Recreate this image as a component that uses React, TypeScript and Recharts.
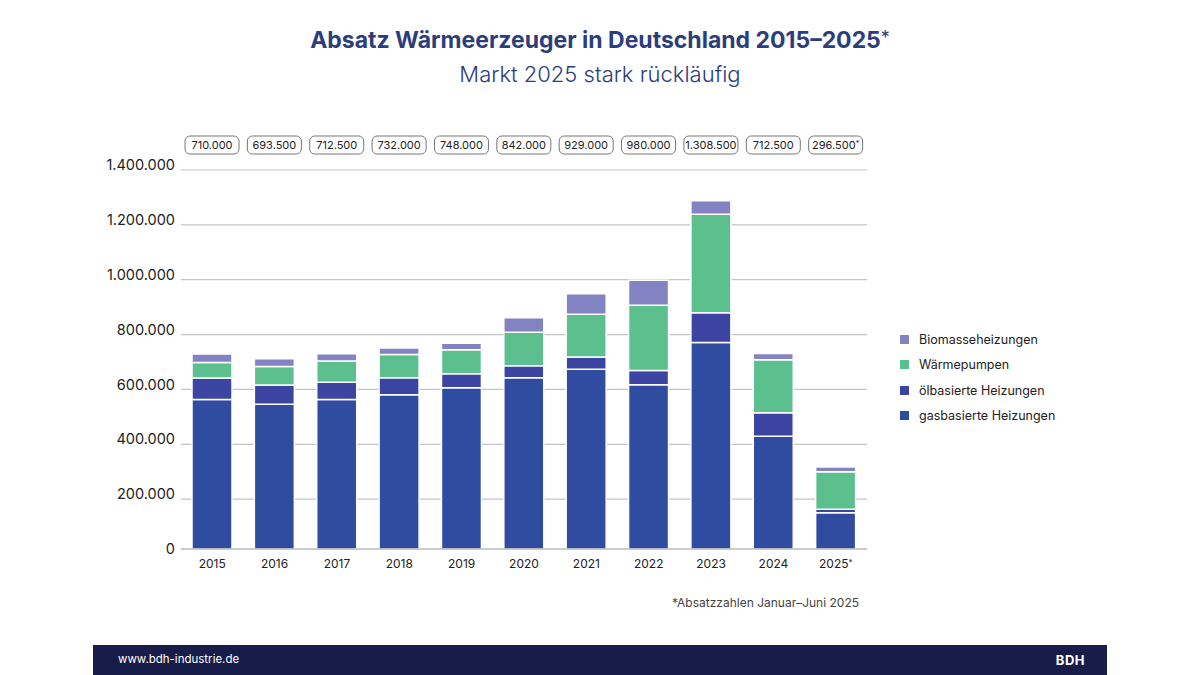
import React from 'react';
import { BarChart, Bar, XAxis, YAxis, CartesianGrid, LabelList } from 'recharts';

const YEARS = ['2015', '2016', '2017', '2018', '2019', '2020', '2021', '2022', '2023', '2024', '2025*'];
const GAS = [545000, 528000, 545000, 562000, 588000, 624000, 655000, 599000, 753000, 411000, 132000];
const OIL = [78000, 70000, 63000, 62000, 51000, 44000, 45000, 52000, 108000, 86000, 13000];
const WP = [57000, 67000, 77000, 85000, 87000, 122000, 156000, 238000, 359000, 193000, 137000];
const BIO = [31000, 29000, 27000, 24000, 24000, 53000, 75000, 91000, 50000, 23000, 17000];
const TOTALS = [710000, 693500, 712500, 732000, 748000, 842000, 929000, 980000, 1308500, 712500, 296500];
const Y_TICKS = [0, 200000, 400000, 600000, 800000, 1000000, 1200000, 1400000];

const C_GAS = '#2f4ca0';
const C_OIL = '#3b44a0';
const C_WP = '#5bbf8e';
const C_BIO = '#8382c2';
const NAVY = '#2c3d7c';
const FONT = 'Inter, "Open Sans", sans-serif';

const SERIES = [
  { key: 'bio', name: 'Biomasseheizungen', color: C_BIO },
  { key: 'wp', name: 'Wärmepumpen', color: C_WP },
  { key: 'oil', name: 'ölbasierte Heizungen', color: C_OIL },
  { key: 'gas', name: 'gasbasierte Heizungen', color: C_GAS },
];

const fmt = (v: number) => String(v).replace(/\B(?=(\d{3})+(?!\d))/g, '.');

const data = YEARS.map((year, i) => ({
  year,
  gas: GAS[i],
  oil: OIL[i],
  wp: WP[i],
  bio: BIO[i],
  total: TOTALS[i],
  star: year.endsWith('*'),
}));

function TotalBox(props: any) {
  const { x, width, index } = props;
  const cx = x + width / 2;
  const d = data[index];
  return (
    <g>
      <rect x={cx - 27} y={136} width={54} height={18} rx={5} fill="#fff" stroke="#777" strokeWidth={1} />
      <text x={cx} y={149} textAnchor="middle" fontSize={11} fill="#222" fontFamily={FONT}>
        {fmt(d.total)}
        {d.star && <tspan fontSize={7} dy={-3}>*</tspan>}
      </text>
    </g>
  );
}

function YearTick(props: any) {
  const { x, y, payload } = props;
  const v: string = payload.value;
  const star = v.endsWith('*');
  return (
    <text x={x} y={y + 11} textAnchor="middle" fontSize={12} fill="#222" fontFamily={FONT}>
      {star ? v.slice(0, -1) : v}
      {star && <tspan fontSize={8} dy={-3}>*</tspan>}
    </text>
  );
}

function LegendBox() {
  return (
    <div style={{ position: 'absolute', left: 900, top: 327, fontFamily: FONT, fontSize: 12.5, color: '#222' }}>
      {SERIES.map((s) => (
        <div key={s.key} style={{ display: 'flex', alignItems: 'center', height: 25.3 }}>
          <span style={{ width: 9, height: 9, background: s.color, marginRight: 10, display: 'inline-block' }} />
          {s.name}
        </div>
      ))}
    </div>
  );
}

export default function App() {
  return (
    <div style={{ position: 'absolute', left: 0, top: 0, width: 1200, height: 675, background: '#fff', fontFamily: FONT, overflow: 'hidden' }}>
      <div style={{ position: 'absolute', top: 26, width: 1200, textAlign: 'center', color: NAVY, fontSize: 23, fontWeight: 700 }}>
        Absatz Wärmeerzeuger in Deutschland 2015–2025<span style={{ fontWeight: 400, fontSize: 18, verticalAlign: 4 }}>*</span>
      </div>
      <div style={{ position: 'absolute', top: 61, width: 1200, textAlign: 'center', color: NAVY, fontSize: 22, fontWeight: 300 }}>
        Markt 2025 stark rückläufig
      </div>
      <BarChart
        width={1200}
        height={675}
        data={data}
        margin={{ top: 165, right: 333, left: 101, bottom: 96 }}
        barSize={40}
        style={{ position: 'absolute', left: 0, top: 0 }}
      >
        <CartesianGrid
          vertical={false}
          stroke="#c4c4c4"
          strokeWidth={1.2}
          horizontalCoordinatesGenerator={({ offset }: any) =>
            Y_TICKS.filter((t) => t > 0).map((t) => offset.top + offset.height * (1 - t / 1400000) + 5)
          }
        />
        <XAxis
          dataKey="year"
          tick={<YearTick />}
          tickLine={false}
          axisLine={{ stroke: '#999', strokeWidth: 1.2 }}
          height={30}
          interval={0}
        />
        <YAxis
          domain={[0, 1400000]}
          ticks={Y_TICKS}
          tickFormatter={fmt}
          width={80}
          axisLine={false}
          tickLine={false}
          tickMargin={0}
          tick={{ fontSize: 14.5, fill: '#222', fontFamily: FONT }}
        />
        <Bar dataKey="gas" name="gasbasierte Heizungen" stackId="a" fill={C_GAS} stroke="#fff" strokeWidth={1.5} isAnimationActive={false} />
        <Bar dataKey="oil" name="ölbasierte Heizungen" stackId="a" fill={C_OIL} stroke="#fff" strokeWidth={1.5} isAnimationActive={false} />
        <Bar dataKey="wp" name="Wärmepumpen" stackId="a" fill={C_WP} stroke="#fff" strokeWidth={1.5} isAnimationActive={false} />
        <Bar dataKey="bio" name="Biomasseheizungen" stackId="a" fill={C_BIO} stroke="#fff" strokeWidth={1.5} isAnimationActive={false}>
          <LabelList dataKey="total" content={<TotalBox />} />
        </Bar>
      </BarChart>
      <LegendBox />
      <div style={{ position: 'absolute', right: 341, top: 595, fontSize: 12, color: '#444' }}>
        *Absatzzahlen Januar–Juni 2025
      </div>
      <div style={{ position: 'absolute', left: 93, top: 645, width: 1014, height: 30, background: '#181c48', color: '#fff' }}>
        <span style={{ position: 'absolute', left: 25, top: 7, fontSize: 11.5 }}>www.bdh-industrie.de</span>
        <span style={{ position: 'absolute', right: 22, top: 7, fontSize: 13, fontWeight: 700, letterSpacing: 0.5 }}>BDH</span>
      </div>
    </div>
  );
}
